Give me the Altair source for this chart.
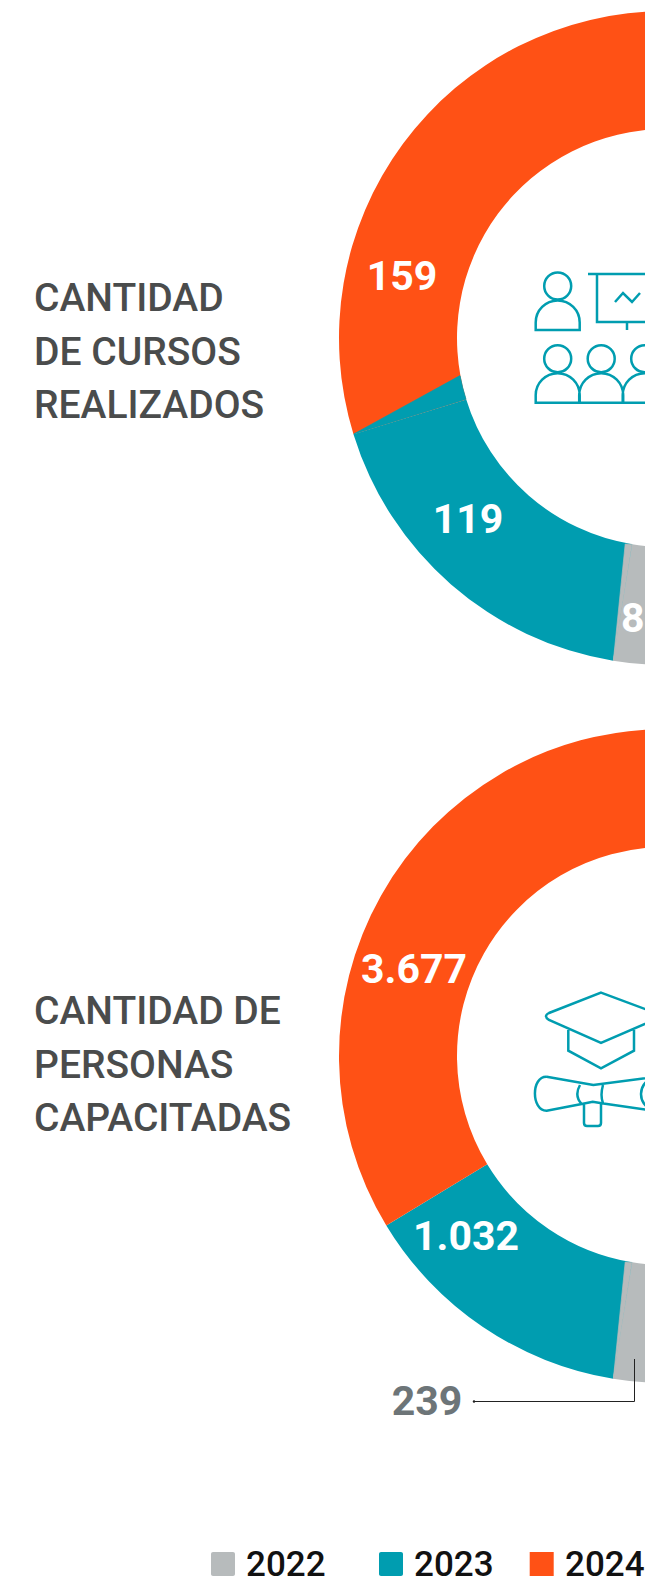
import altair as alt
import pandas as pd
import math

years = ["2022", "2023", "2024"]
colors = ["#b7bbbc", "#009db0", "#ff5115"]
# Visible angular sweep of each slice (degrees, left half of the ring)
sweep_cursos = [9.3, 63.6, 107.1]
sweep_personas = [9.3, 49.5, 121.2]
labels_cursos = ["8", "119", "159"]
labels_personas = ["3.677", "1.032", "239"]

W, H = 637, 1577
def X(v): return v - 8
def Y(v): return v - 8

TEAL = colors[1]
GRAY = colors[0]

def ring(sweeps, cy):
    df = pd.DataFrame({"year": years, "sweep": sweeps, "k": [0, 1, 2]})
    return alt.Chart(df).mark_arc(
        outerRadius=327, innerRadius=209, clip=True
    ).encode(
        x=alt.value(X(666)), y=alt.value(Y(cy)),
        theta=alt.Theta("sweep:Q", stack=True,
                        scale=alt.Scale(domain=[0, 180], range=[math.pi, 2 * math.pi])),
        color=alt.Color("year:N", scale=alt.Scale(domain=years, range=colors), legend=None),
        order=alt.Order("k:Q"),
    )

anchor = alt.Chart(pd.DataFrame({"a": [0]}))

def txt(s, x, y, size, color, weight=700, align="center", baseline="middle"):
    return anchor.mark_text(text=s, font="Roboto", fontSize=size, fontWeight=weight, color=color,
                            align=align, baseline=baseline, clip=True).encode(
        x=alt.value(X(x)), y=alt.value(Y(y)))

def icon(path, width=2.5):
    # Custom symbols are scaled by sqrt(size)/2, so size=4 keeps them in pixel units
    return anchor.mark_point(shape=path, size=4, filled=False, stroke=TEAL, strokeWidth=width,
                             opacity=1, clip=True).encode(x=alt.value(X(0)), y=alt.value(Y(0)))

def wedge(path, color):
    # The reference's slice separators are not quite radial; small wedges correct them
    return anchor.mark_point(shape=path, size=4, filled=True, fill=color, stroke=color, strokeWidth=0.7,
                             opacity=1, clip=True).encode(x=alt.value(X(0)), y=alt.value(Y(0)))

def person(cx, head_y, base_y):
    top = head_y + 14.5
    return (f"M{cx+13.5} {head_y}A13.5 13.5 0 1 1 {cx-13.5} {head_y}A13.5 13.5 0 1 1 {cx+13.5} {head_y}Z"
            f"M{cx-22} {base_y}V{top+22}A22 22 0 0 1 {cx+22} {top+22}V{base_y}Z")

board = person(557.7, 286, 330) + "M588 274H680M597 274V322H660M627 322V330M615 302L623 293L632 302L640 293"
crowd = person(557.7, 358.7, 402.7) + person(601.2, 358.7, 402.7) + person(644.7, 358.7, 402.7)
cap = ("M601 992.7L653 1012Q660 1016 656 1019L601 1043L549 1020Q543 1016 549 1013Z"
       "M568.3 1030V1050.7L601 1068.3L634 1050.7V1030M650 1023V1056")
diploma = ("M546.7 1076.7C531 1076 531 1111 546.7 1110.7L581.7 1104L592.7 1101.7L601.7 1103.3L653 1110.7"
           "M546.7 1076.7L593.3 1085L653 1077.3M653 1077.3C637 1085 637 1103 653 1110.7"
           "M580 1085C576 1092 577 1099 581.7 1104M603 1085C601 1092 601 1098 603 1103.3"
           "M584 1104V1123Q584 1126 587 1126H598Q601 1126 601 1123V1103.3")

layers = [ring(sweep_cursos, 338), ring(sweep_personas, 1056)]
layers += [
    wedge("M353.9 433.9L460 375.6A209 209 0 0 0 466 399.2Z", TEAL),
    wedge("M613.4 660.4L625.2 544L632 544.4Z", GRAY),
    wedge("M613.4 1378.4L625.2 1262L632 1262.4Z", GRAY),
]
layers += [icon(board + crowd), icon(cap + diploma)]

# Slice labels
layers += [txt(labels_cursos[2], 402, 278, 41, "white"),
           txt(labels_cursos[1], 468, 521, 41, "white"),
           txt(labels_cursos[0], 621, 620, 41, "white", align="left"),
           txt(labels_personas[0], 414, 971, 41, "white"),
           txt(labels_personas[1], 466, 1238, 41, "white"),
           txt(labels_personas[2], 427, 1403, 41, "#6d7578")]

# Titles
for s, b in [("CANTIDAD", 311), ("DE CURSOS", 365), ("REALIZADOS", 418),
             ("CANTIDAD DE", 1024), ("PERSONAS", 1078), ("CAPACITADAS", 1131)]:
    layers.append(txt(s, 34, b, 39, "#4a4c4c", weight=500, align="left", baseline="alphabetic"))

# Leader line for 239
layers += [
    anchor.mark_rule(color="#222222", strokeWidth=1).encode(
        x=alt.value(X(634.5)), y=alt.value(Y(1359)), y2=alt.value(Y(1401.5))),
    anchor.mark_rule(color="#222222", strokeWidth=1).encode(
        x=alt.value(X(474)), x2=alt.value(X(634.5)), y=alt.value(Y(1401.5))),
    anchor.mark_point(filled=True, size=6, color="#222222", opacity=1).encode(
        x=alt.value(X(474)), y=alt.value(Y(1401.5))),
]

# Legend
LEG_Y = 1552
for yr, c, sx, tx, r in zip(years, colors, [223, 391, 541.7], [246, 414, 565], [2, 2, 0]):
    layers.append(anchor.mark_rect(color=c, cornerRadius=r, clip=True).encode(
        x=alt.value(X(sx - 12)), x2=alt.value(X(sx + 12)),
        y=alt.value(Y(LEG_Y)), y2=alt.value(Y(LEG_Y + 24))))
    layers.append(txt(yr, tx, LEG_Y + 24, 35, "#111111", weight=500, align="left", baseline="alphabetic"))

chart = alt.layer(*layers).properties(
    width=W, height=H, padding=0,
    autosize=alt.AutoSizeParams(type="none"), background="white"
).configure_view(stroke=None)

chart.save("out.html", embed_options={"renderer": "svg", "actions": False})
